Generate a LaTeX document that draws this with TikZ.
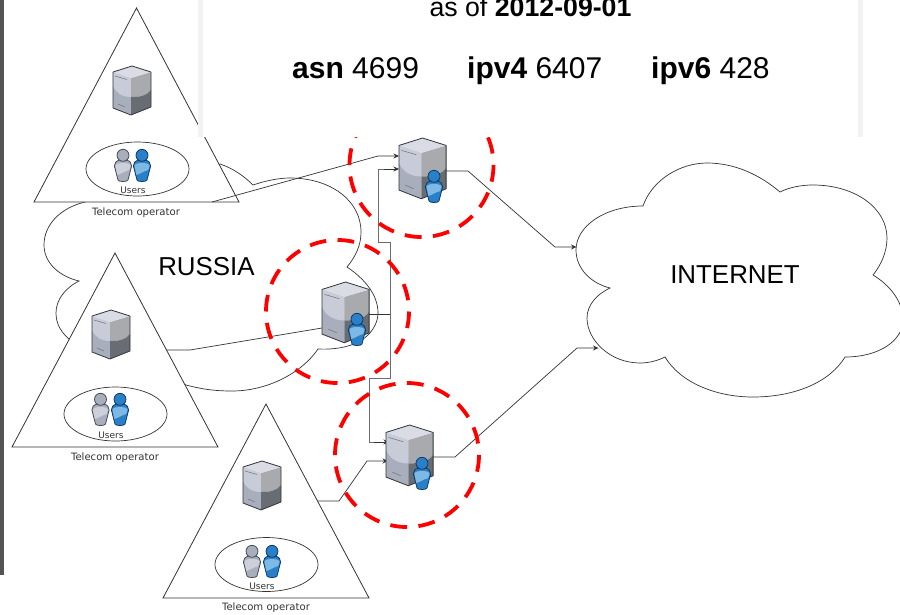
\documentclass[tikz,border=0pt]{standalone}
\usepackage{fontspec}
\setmainfont{Liberation Sans}
\newfontfamily\labelfont{DejaVu Sans}
\usetikzlibrary{arrows.meta,shapes.geometric}
\definecolor{lineC}{HTML}{333333}
\definecolor{srvTop}{HTML}{D9DBE5}
\definecolor{srvLightL}{HTML}{C8CBD8}
\definecolor{srvLowL}{HTML}{A9AEBC}
\definecolor{srvUpR}{HTML}{A9AAAE}
\definecolor{srvLowR}{HTML}{686C73}
\definecolor{srvEdge}{HTML}{30343A}
\definecolor{perBlue}{HTML}{2A80C8}
\definecolor{perBlueL}{HTML}{7DB9E4}
\definecolor{perBlueE}{HTML}{0E3B66}
\definecolor{perGray}{HTML}{A9AEBD}
\definecolor{perGrayL}{HTML}{CDD0DB}
\definecolor{perGrayE}{HTML}{474B55}
\tikzset{
  x=1pt,y=-1pt,
  cloudshape/.style={draw=lineC,line width=0.7pt,fill=white},
  wedge/.style={draw=lineC,line width=0.8pt,fill=white,line join=miter},
  conn/.style={draw=lineC,line width=0.7pt},
  connarrow/.style={conn,-{Stealth[length=5.5pt,width=5pt]}},
  trunk/.style={draw=gray!85!black,line width=1pt},
  ring/.style={draw=red,line width=3.8pt,dash pattern=on 16.8pt off 11.47pt},
  big/.style={font=\fontsize{25.9}{28}\selectfont,inner sep=0pt},
  head/.style={font=\fontsize{30}{32}\selectfont,inner sep=0pt,anchor=base west},
  small/.style={font=\labelfont\fontsize{10.1}{12}\selectfont,text=black!80,inner sep=0pt},
  tiny/.style={font=\labelfont\fontsize{9}{11}\selectfont,text=black!80,inner sep=0pt},
  usersring/.style={draw=lineC,line width=0.7pt,ellipse,minimum width=103pt,minimum height=54pt,inner sep=0pt},
  server/.pic={
    \fill[srvLowL] (0,6)--(18,12)--(18,49)--(0,42)--cycle;
    \fill[srvLightL] (0,6)--(18,12)--(18,31) .. controls (9,31) and (3,27) .. (0,20)--cycle;
    \fill[srvUpR] (18,12)--(38,6)--(38,24) .. controls (34,30) and (26,31) .. (18,31)--cycle;
    \fill[srvLowR] (18,31) .. controls (26,31) and (34,30) .. (38,24)--(38,41)--(18,49)--cycle;
    \fill[srvTop] (0,6)--(19,0)--(38,6)--(18,12)--cycle;
    \draw[srvEdge,line width=0.8pt,line join=round] (0,6)--(19,0)--(38,6)--(38,41)--(18,49)--(0,42)--cycle;
    \draw[srvEdge!70,line width=0.5pt] (2,10)--(14,13.5) (5,38)--(12,41);
  },
}
\newcommand{\persona}[5]{% x, top y, fill, light, edge
  \begin{scope}[shift={(#1,#2)}]
    \filldraw[fill=#3,draw=#5,line width=0.8pt,line join=round]
      (-3.5,11) .. controls (-7,12) and (-8.6,14) .. (-8.6,17) -- (-5,31) .. controls (-4.5,33) and (4.5,33) .. (5,31)
      -- (8.6,17) .. controls (8.6,14) and (7,12) .. (3.5,11) -- cycle;
    \fill[#4] (-7.6,16.5) .. controls (-6,13) and (6,13) .. (7.6,16.5) -- (6.3,21) .. controls (2,22) and (-2,25) .. (-5.6,26) -- cycle;
    \filldraw[fill=#3,draw=#5,line width=0.8pt] (0,6.3) circle[radius=6];
  \end{scope}}
\newcommand{\bluep}[2]{\persona{#1}{#2}{perBlue}{perBlueL}{perBlueE}}
\newcommand{\grayp}[2]{\persona{#1}{#2}{perGray}{perGrayL}{perGrayE}}
\begin{document}
\begin{tikzpicture}
\useasboundingbox (0,0) rectangle (900,614);
\fill[white] (0,0) rectangle (900,614);
\fill[black!67] (0,0) rectangle (4,575);

% clouds
\path[cloudshape] (85,202) .. controls (60,208) and (44,225) .. (44,245)
  .. controls (44,262) and (58,276) .. (79,281)
  .. controls (65,288) and (56,300) .. (56,313)
  .. controls (56,325) and (62,333) .. (70,340)
  -- (186,385) .. controls (205,390) and (218,391) .. (232,391)
  .. controls (265,391) and (300,375) .. (318,349)
  .. controls (340,350) and (358,345) .. (368,335)
  .. controls (374,329) and (378,321) .. (378,313)
  .. controls (378,295) and (365,279) .. (347,267)
  .. controls (356,256) and (361,245) .. (361,232)
  .. controls (361,200) and (330,178) .. (290,178)
  .. controls (278,178) and (265,181) .. (253,185)
  .. controls (243,175) and (232,168) .. (220,164) -- cycle;
\node[big] (russia) at (206.5,267) {RUSSIA};
\path[cloudshape] (643,206) .. controls (652,180) and (680,163) .. (707,163)
  .. controls (735,163) and (760,175) .. (780,192)
  .. controls (790,187) and (802,185) .. (813,185)
  .. controls (855,185) and (887,208) .. (887,238)
  .. controls (887,252) and (881,265) .. (873,275)
  .. controls (888,284) and (903,300) .. (903,320)
  .. controls (903,340) and (880,357) .. (845,357)
  .. controls (830,382) and (795,397) .. (753,397)
  .. controls (715,397) and (680,382) .. (665,357)
  .. controls (657,361) and (648,363) .. (640,363)
  .. controls (610,363) and (587,340) .. (587,318)
  .. controls (587,305) and (597,294) .. (610,288)
  .. controls (590,283) and (576,268) .. (576,250)
  .. controls (576,226) and (605,206) .. (643,206) -- cycle;
\node[big] (internet) at (735,275) {INTERNET};

% operators
\path[wedge] (136.5,8)--(239,202)--(34,202)--cycle;
\path[wedge] (115,253)--(218,447)--(12,447)--cycle;
\path[wedge] (266,404)--(369,598)--(163,598)--cycle;
\node[usersring] (ellA) at (137.5,169) {};
\node[usersring] (ellB) at (115.5,414) {};
\node[usersring] (ellC) at (266.5,564.5) {};
\pic at (113,66) {server};
\pic at (92,310) {server};
\pic at (243,461) {server};
\grayp{123}{149}\bluep{142}{149}
\grayp{100.5}{393}\bluep{120}{393}
\grayp{252}{545}\bluep{272}{545}
\node[tiny] (uA) at (133,190) {Users};
\node[tiny] (uB) at (111,435) {Users};
\node[tiny] (uC) at (262,586) {Users};
\node[small] (opA) at (136,213) {Telecom operator};
\node[small] (opB) at (115,458) {Telecom operator};
\node[small] (opC) at (266,608) {Telecom operator};

% anchors
\coordinate (outA) at (212,202);
\coordinate (outB) at (167,350);
\coordinate (outC) at (318,501);
\coordinate (inA1) at (399,156);
\coordinate (inA2) at (399,169);
\coordinate (inB) at (322,328);
\coordinate (inC1) at (389,442);
\coordinate (inC2) at (388,461);
\coordinate (portB) at (368,314);
\coordinate (portA) at (446,171);
\coordinate (portC) at (433,457);
\coordinate (netA) at (576.5,247);
\coordinate (netC) at (598.5,348);

% connectors
\draw[connarrow] (outA) -- (378,156) -- (inA1);
\draw[conn] (outB) -- (190,350) -- (inB);
\draw[connarrow] (outC) -- (339,501) -- (367,461) -- (inC2);
\draw[conn] (portB) -- (390,314);
\draw[trunk] (385,169) -- (378,169) -- (378,242) -- (390,242) -- (390,378) -- (369,378) -- (369,442) -- (375,442);
\draw[connarrow] (384,169) -- (inA2);
\draw[connarrow] (374,442) -- (inC1);
\draw[connarrow] (portA) -- (468,171) -- (555,247) -- (netA);
\draw[connarrow] (portC) -- (455,457) -- (577,348) -- (netC);

% rings
\draw[ring] (421.5,165) circle[radius=72];
\draw[ring,dash pattern=on 16.7pt off 11.38pt] (337.5,311.5) circle[radius=71.5];
\draw[ring] (407,455) circle[radius=72];

% servers with a person
\pic[scale=1.24] at (399,138) {server};
\pic[scale=1.24] at (322,282) {server};
\pic[scale=1.24] at (386,425) {server};
\bluep{434}{170}
\bluep{357}{313}
\bluep{422}{457}

% panel
\fill[white] (198,0) rectangle (863,137);
\fill[black!5] (198,0) rectangle (203,137);
\fill[black!5] (858,0) rectangle (863,137);
\node[font=\fontsize{26.7}{28}\selectfont,inner sep=0pt,anchor=base] (asof) at (530.5,16.5) {as of \textbf{2012-09-01}};
\node[head] (asn) at (292,78) {\textbf{asn} 4699};
\node[head] (ipvf) at (467,78) {\textbf{ipv4} 6407};
\node[head] (ipvs) at (651,78) {\textbf{ipv6} 428};
\end{tikzpicture}
\end{document}
